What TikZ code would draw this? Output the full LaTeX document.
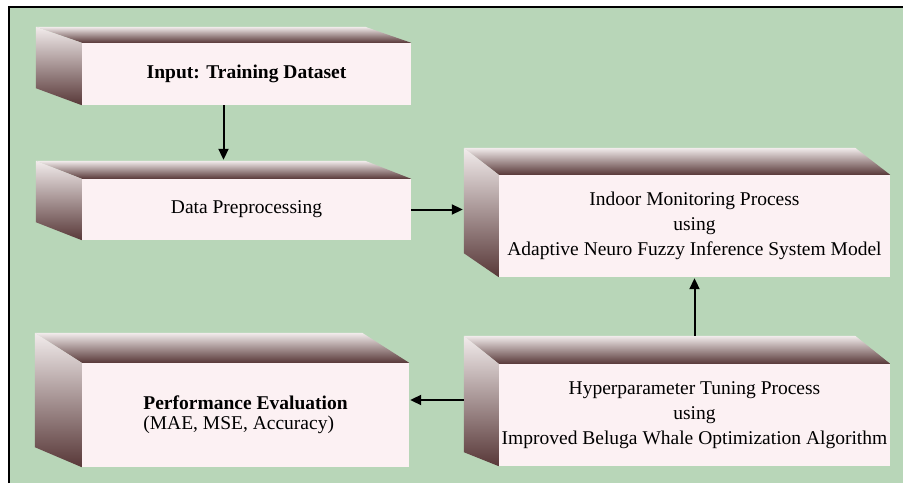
\documentclass[tikz,border=0pt]{standalone}
\usepackage{fontspec}
\setmainfont{Liberation Serif}
\usetikzlibrary{arrows.meta}
\definecolor{bggreen}{RGB}{184,214,184}
\definecolor{facefront}{RGB}{252,241,243}
\definecolor{facelight}{RGB}{242,236,236}
\definecolor{facedark}{RGB}{88,56,56}

\begin{document}
\begin{tikzpicture}[x=1pt,y=1pt,>={Triangle[length=11pt,width=10pt]},
                    front/.style={fill=facefront,inner sep=0pt,align=center,
                                  font=\fontsize{19.5}{25}\selectfont},
                    flow/.style={->,line width=2pt,shorten >=1pt}]

  \useasboundingbox (0,0) rectangle (903,483);
  \fill[bggreen] (9,0) rectangle (903,476);
  \draw[line width=2pt] (9,0) -- (9,476) -- (903,476);

  \node[front,minimum width=329pt,minimum height=62pt] (in) at (246.5,409)
        {\textbf{Input: Training Dataset}};
  \node[front,minimum width=329pt,minimum height=61pt] (pre) at (246.5,273.5)
        {Data Preprocessing};
  \node[front,minimum width=391pt,minimum height=102pt] (anfis) at (694.5,257)
        {Indoor Monitoring Process\\using\\Adaptive Neuro Fuzzy Inference System Model};
  \node[front,minimum width=327pt,minimum height=104pt,align=left,
        font=\fontsize{19.5}{20}\selectfont] (eval) at (245.5,68)
        {\textbf{Performance Evaluation}\\(MAE, MSE, Accuracy)};
  \node[front,minimum width=391pt,minimum height=102pt] (ibwo) at (694.5,68)
        {Hyperparameter Tuning Process\\using\\Improved Beluga Whale Optimization Algorithm};

  % top and left faces of each box
  \foreach \n/\dx/\dt/\db in {in/46/16/17,pre/46/18/18,anfis/35/27/24,eval/47/30/20,ibwo/35/28/14}{
    \coordinate (\n-tl) at ([shift={(-\dx,\dt)}]\n.north west);
    \coordinate (\n-tr) at ([shift={(-\dx,\dt)}]\n.north east);
    \coordinate (\n-bl) at ([shift={(-\dx,\db)}]\n.south west);
    \shade[top color=facelight,bottom color=facedark]
      (\n-tl) -- (\n-tr) -- (\n.north east) -- (\n.north west) -- cycle;
    \shade[top color=facelight,bottom color=facedark]
      (\n-tl) -- (\n.north west) -- (\n.south west) -- (\n-bl) -- cycle;
  }

  \draw[flow] ([xshift=-23pt]in.south) -- ([xshift=-23pt]in.south |- pre-tl);
  \draw[flow] (pre.east) -- (pre.east -| anfis-tl);
  \draw[flow] (anfis.south |- ibwo-tl) -- (anfis.south);
  \draw[flow] ([yshift=15pt]eval.east -| ibwo-bl) -- ([yshift=15pt]eval.east);

\end{tikzpicture}
\end{document}
